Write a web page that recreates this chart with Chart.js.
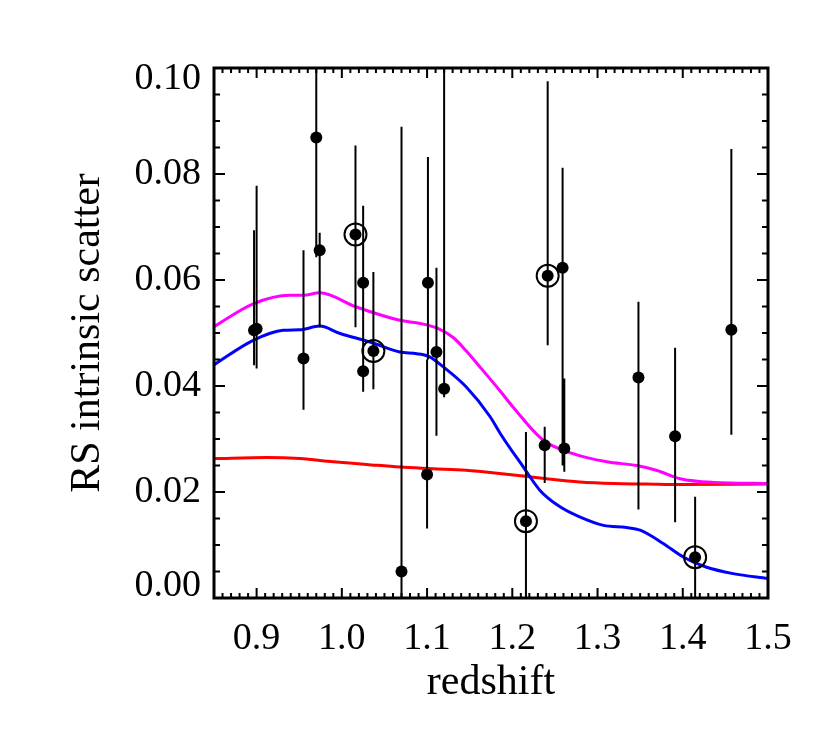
<!DOCTYPE html>
<html>
<head>
<meta charset="utf-8">
<script src="https://cdn.jsdelivr.net/npm/chart.js@4.4.0/dist/chart.umd.min.js"></script>
<style>
  html, body { margin: 0; padding: 0; background: #fff; }
  #wrap { width: 830px; height: 735px; }
</style>
</head>
<body>
<div id="wrap"><canvas id="rsChart" width="830" height="735"></canvas></div>
<script>
// cluster points: redshift, scatter, error bar ends, circled flag
const redshift = [0.897, 0.900, 0.955, 0.970, 0.974, 1.016, 1.025, 1.025, 1.037, 1.070, 1.101, 1.100,
                  1.111, 1.120, 1.216, 1.238, 1.2415, 1.259, 1.261, 1.348, 1.391, 1.4145, 1.457];
const scatter  = [0.0505, 0.0508, 0.0452, 0.0869, 0.0656, 0.0686, 0.0595, 0.0428, 0.0466, 0.0050, 0.0595, 0.0233,
                  0.0464, 0.0395, 0.0145, 0.0288, 0.0608, 0.0623, 0.0282, 0.0416, 0.0305, 0.0077, 0.0506];
const errLow   = [0.0439, 0.0433, 0.0355, 0.0643, 0.0511, 0.0511, 0.0450, 0.0389, 0.0394, -0.010, 0.0450, 0.0131,
                  0.0306, 0.0379, -0.010, 0.0217, 0.0477, 0.0250, 0.0238, 0.0167, 0.0143, -0.010, 0.0308];
const errHigh  = [0.0694, 0.0778, 0.0656, 0.1100, 0.0689, 0.0854, 0.0740, 0.0470, 0.0615, 0.0889, 0.0832, 0.0450,
                  0.0623, 0.1100, 0.0313, 0.0323, 0.0975, 0.0812, 0.0414, 0.0559, 0.0472, 0.0191, 0.0847];
const circled  = [false, false, false, false, false, true, false, false, true, false, false, false,
                  false, false, true, false, true, false, false, false, false, true, false];

// model curves
const magentaZ = [0.85, 0.896, 0.939, 0.955, 0.974, 1.017, 1.068, 1.092, 1.112, 1.131, 1.146, 1.162, 1.185, 1.201,
                  1.236, 1.272, 1.311, 1.346, 1.369, 1.397, 1.436, 1.5];
const magentaS = [0.0512, 0.0555, 0.0571, 0.0571, 0.0576, 0.0549, 0.0524, 0.0518, 0.0509, 0.0491, 0.0466, 0.0436,
                  0.0392, 0.0360, 0.0298, 0.0272, 0.0257, 0.0250, 0.0241, 0.0225, 0.0218, 0.0216];
const blueZ = [0.849, 0.896, 0.931, 0.951, 0.974, 0.998, 1.033, 1.068, 1.088, 1.103, 1.119, 1.146, 1.174,
               1.186, 1.213, 1.2325, 1.256, 1.279, 1.307, 1.334, 1.350, 1.377, 1.401, 1.428, 1.459, 1.5];
const blueS = [0.0439, 0.0486, 0.0505, 0.0506, 0.0513, 0.0499, 0.0483, 0.0464, 0.0461, 0.0455, 0.0436, 0.0398, 0.0342,
               0.0310, 0.0247, 0.0203, 0.0172, 0.0153, 0.0137, 0.0133, 0.0128, 0.0103, 0.0077, 0.0058, 0.0046, 0.0037];
const redZ = [0.85, 0.912, 0.951, 0.990, 1.029, 1.068, 1.107, 1.146, 1.185, 1.240, 1.279, 1.319, 1.358, 1.397, 1.5];
const redS = [0.0263, 0.0265, 0.0263, 0.0257, 0.0252, 0.0247, 0.0244, 0.0241, 0.0235, 0.0225, 0.0219, 0.0216,
              0.0215, 0.0214, 0.0215];

const xTicks = [0.9, 1.0, 1.1, 1.2, 1.3, 1.4, 1.5];
const yTicks = [0.00, 0.02, 0.04, 0.06, 0.08, 0.10];

const FONT = "'Liberation Serif', 'Times New Roman', serif";

function toXY(xs, ys) {
    return xs.map((x, i) => ({ x: x, y: ys[i] }));
}

// error bars as one broken line (null breaks segments)
const errData = [];
redshift.forEach((z, i) => {
    errData.push({ x: z, y: errLow[i] }, { x: z, y: errHigh[i] }, { x: z, y: null });
});

const ringData = toXY(redshift, scatter).filter((p, i) => circled[i]);

// IDL-style inward ticks on all four sides plus frame, and y labels
const idlAxes = {
    id: 'idlAxes',
    afterDraw(chart) {
        const { ctx, chartArea: a, scales: { x, y } } = chart;
        ctx.save();
        ctx.strokeStyle = '#000';
        ctx.lineWidth = 2;
        ctx.beginPath();
        for (let i = 85; i <= 150; i++) {
            const px = x.getPixelForValue(i / 100);
            const len = i % 10 === 0 ? 10 : 5;
            ctx.moveTo(px, a.bottom); ctx.lineTo(px, a.bottom - len);
            ctx.moveTo(px, a.top); ctx.lineTo(px, a.top + len);
        }
        for (let i = 0; i <= 20; i++) {
            const py = y.getPixelForValue(i * 0.005);
            const len = i % 4 === 0 ? 11 : 6;
            ctx.moveTo(a.left, py); ctx.lineTo(a.left + len, py);
            ctx.moveTo(a.right, py); ctx.lineTo(a.right - len, py);
        }
        ctx.stroke();
        ctx.lineWidth = 3;
        ctx.strokeRect(a.left, a.top, a.right - a.left, a.bottom - a.top);

        // y tick labels, end labels pulled inside the frame
        ctx.fillStyle = '#000';
        ctx.font = '38px ' + FONT;
        ctx.textAlign = 'right';
        ctx.textBaseline = 'middle';
        yTicks.forEach(v => {
            let py = y.getPixelForValue(v);
            if (v === yTicks[0]) py -= 12;
            if (v === yTicks[yTicks.length - 1]) py += 11;
            ctx.fillText(v.toFixed(2), a.left - 13, py);
        });
        ctx.restore();
    }
};

const ctx = document.getElementById('rsChart').getContext('2d');
const rsChart = new Chart(ctx, {
    type: 'scatter',
    data: {
        datasets: [
            {
                label: 'circled',
                data: ringData,
                pointRadius: 11,
                pointBackgroundColor: 'rgba(0,0,0,0)',
                pointBorderColor: '#000',
                pointBorderWidth: 2
            },
            {
                label: 'clusters',
                data: toXY(redshift, scatter),
                pointRadius: 6,
                pointBackgroundColor: '#000',
                pointBorderWidth: 0
            },
            {
                type: 'line',
                label: 'errors',
                data: errData,
                borderColor: '#000',
                borderWidth: 2,
                pointRadius: 0,
                spanGaps: false
            },
            {
                type: 'line',
                label: 'magenta',
                data: toXY(magentaZ, magentaS),
                borderColor: '#ff00ff',
                borderWidth: 3,
                pointRadius: 0,
                cubicInterpolationMode: 'monotone'
            },
            {
                type: 'line',
                label: 'blue',
                data: toXY(blueZ, blueS),
                borderColor: '#0000ff',
                borderWidth: 3,
                pointRadius: 0,
                cubicInterpolationMode: 'monotone'
            },
            {
                type: 'line',
                label: 'red',
                data: toXY(redZ, redS),
                borderColor: '#ff0000',
                borderWidth: 3,
                pointRadius: 0,
                cubicInterpolationMode: 'monotone'
            }
        ]
    },
    options: {
        responsive: false,
        animation: false,
        layout: { padding: { left: 0, top: 68, right: 62, bottom: 0 } },
        plugins: {
            legend: { display: false },
            tooltip: { enabled: false }
        },
        scales: {
            x: {
                type: 'linear',
                min: 0.85,
                max: 1.5,
                afterBuildTicks: (s) => { s.ticks = xTicks.map(v => ({ value: v })); },
                afterFit: (s) => { s.height = 137; },
                grid: { display: false, drawTicks: false },
                border: { display: false },
                ticks: {
                    color: '#000',
                    font: { family: FONT, size: 38 },
                    padding: 18,
                    maxRotation: 0,
                    callback: (v) => v.toFixed(1)
                },
                title: {
                    display: true,
                    text: 'redshift',
                    color: '#000',
                    font: { family: FONT, size: 42 },
                    padding: { bottom: 27 }
                }
            },
            y: {
                type: 'linear',
                min: 0,
                max: 0.1,
                afterBuildTicks: (s) => { s.ticks = yTicks.map(v => ({ value: v })); },
                afterFit: (s) => { s.width = 214; },
                grid: { display: false, drawTicks: false },
                border: { display: false },
                ticks: { display: false },
                title: {
                    display: true,
                    text: 'RS intrinsic scatter',
                    color: '#000',
                    font: { family: FONT, size: 42 },
                    padding: { top: 63 }
                }
            }
        }
    },
    plugins: [idlAxes]
});
</script>
</body>
</html>
